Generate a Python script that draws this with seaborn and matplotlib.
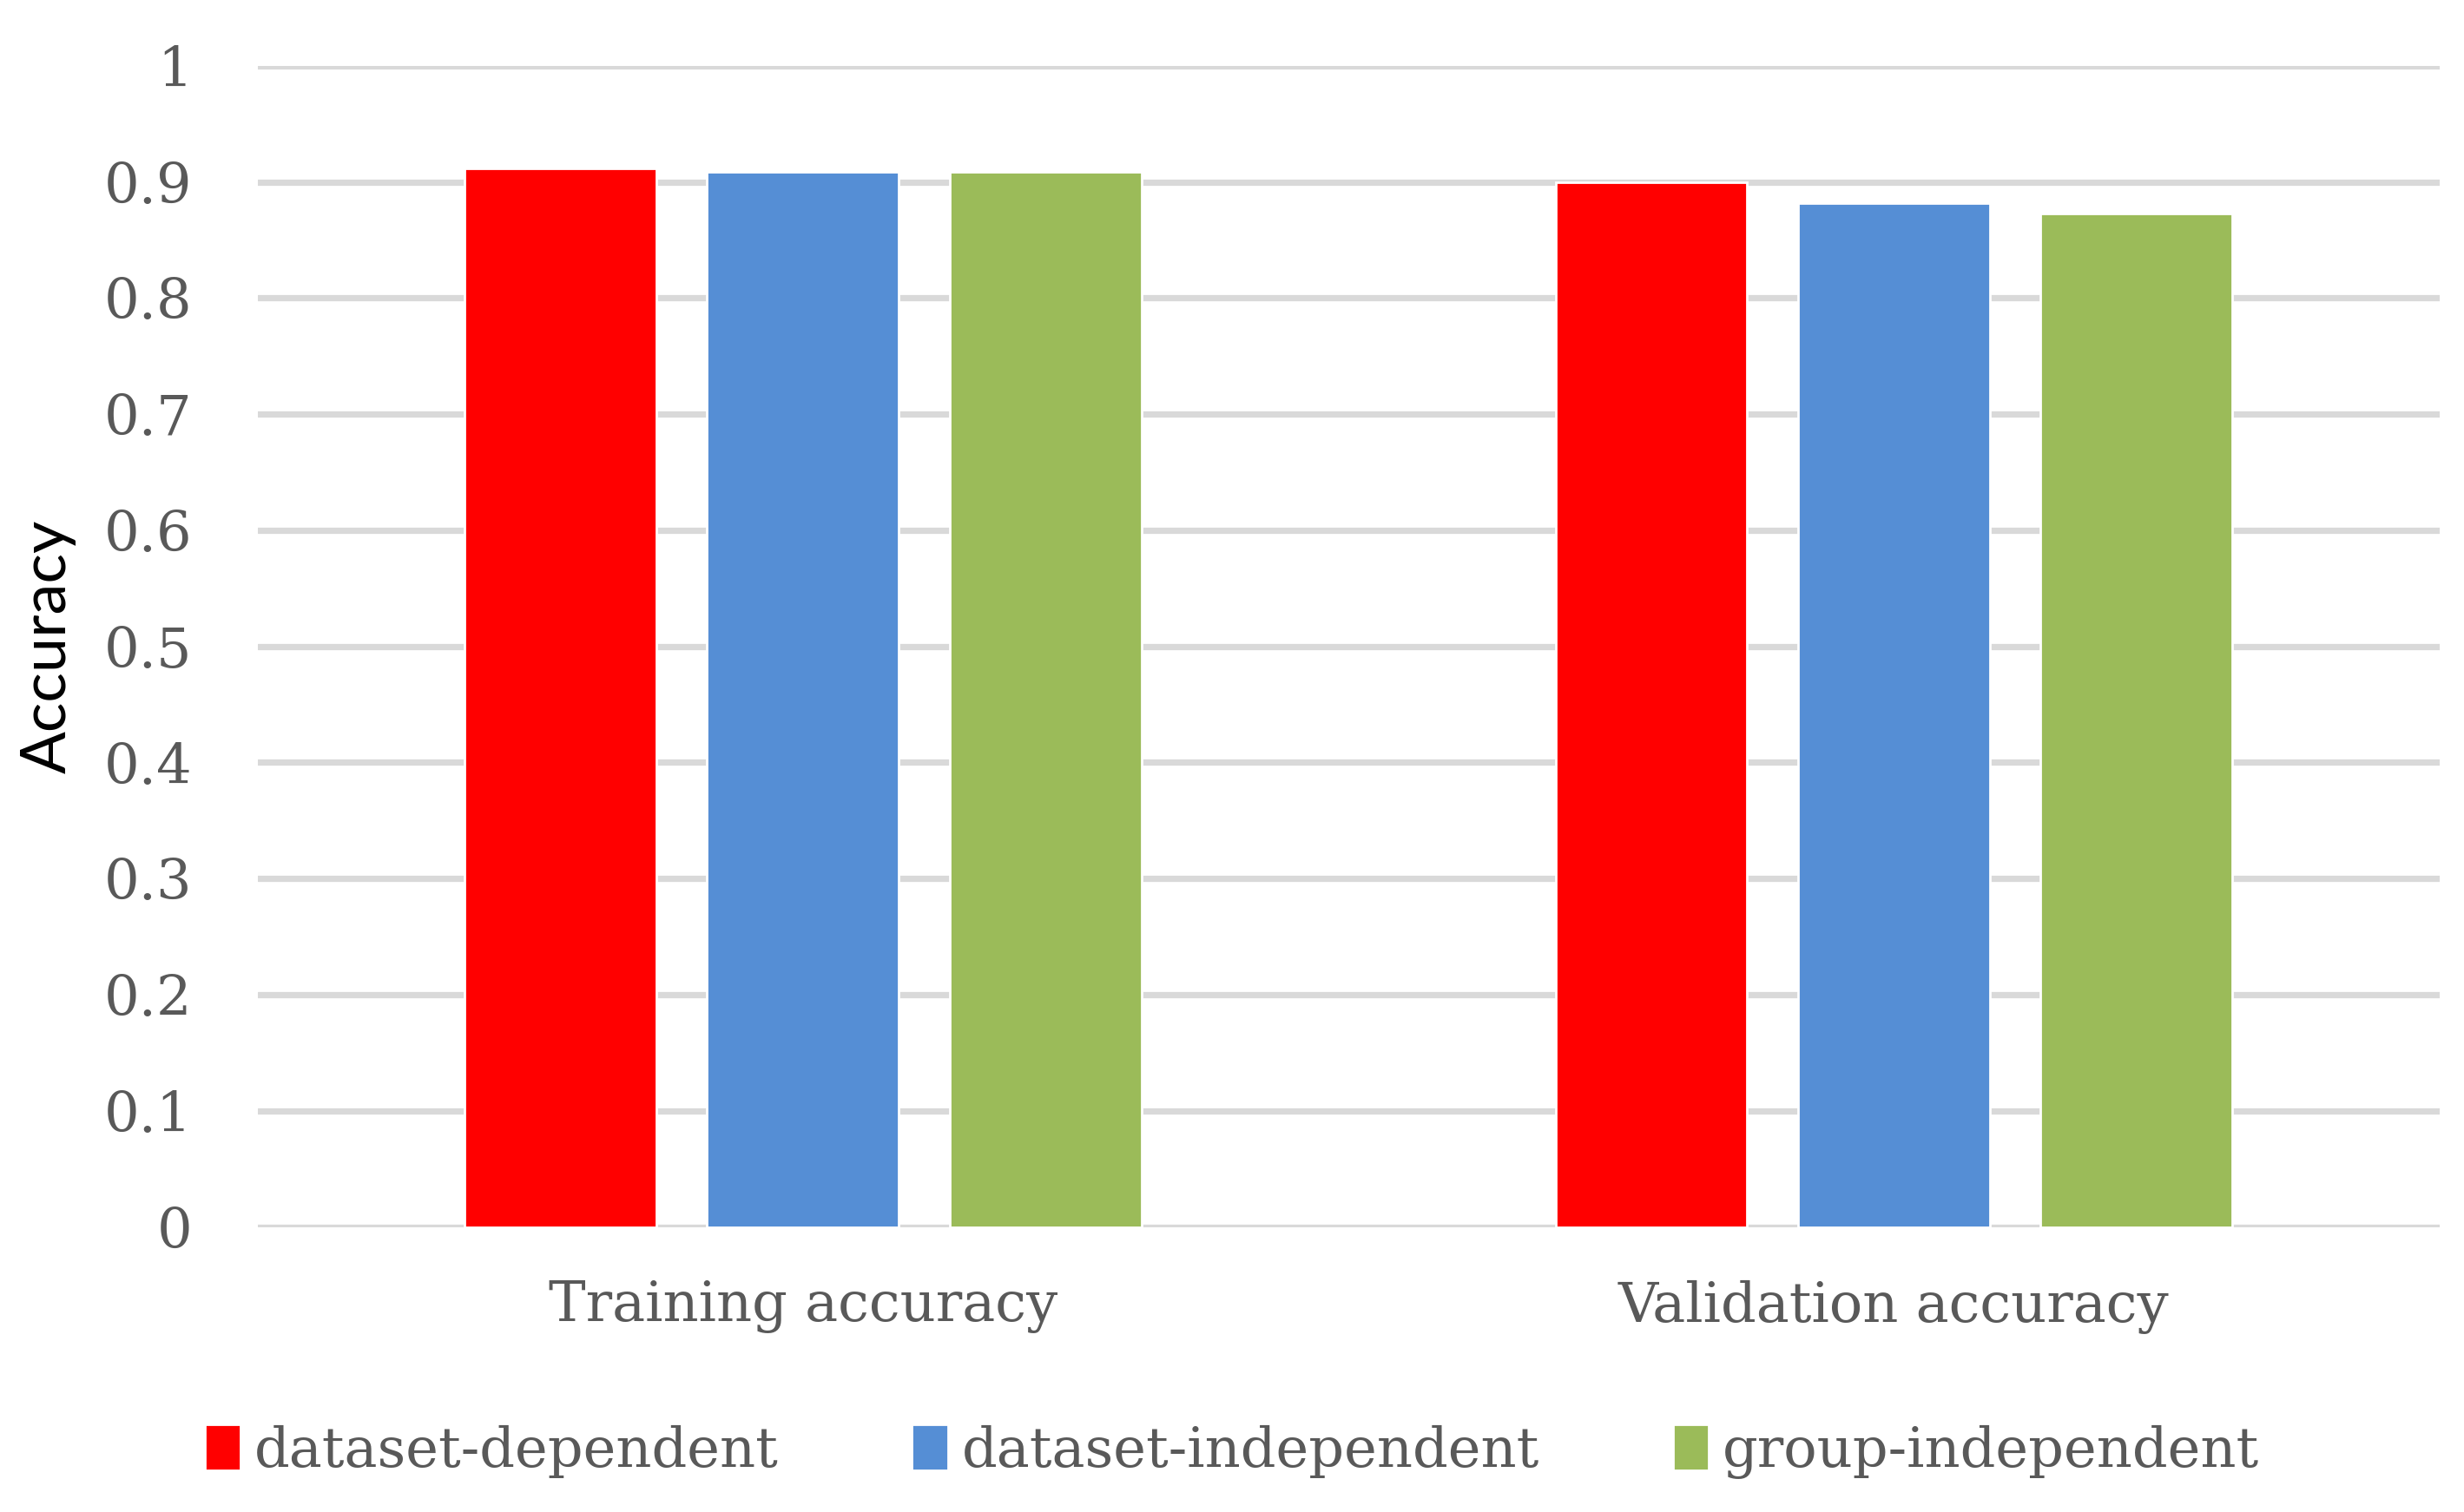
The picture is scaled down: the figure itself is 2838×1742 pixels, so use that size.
import numpy as np
import pandas as pd
import seaborn as sns
import matplotlib.pyplot as plt

# datos
categorias = ["Training accuracy", "Validation accuracy"]
modelos = ["dataset-dependent", "dataset-independent", "group-independent"]
dataset_dependent = [0.912, 0.900]
dataset_independent = [0.909, 0.882]
group_independent = [0.909, 0.873]
colores = ["#FF0000", "#558ED5", "#9BBB59"]
y_ticks = [0, 0.1, 0.2, 0.3, 0.4, 0.5, 0.6, 0.7, 0.8, 0.9, 1]

filas = []
for modelo, valores in zip(modelos, [dataset_dependent, dataset_independent, group_independent]):
    for cat, v in zip(categorias, valores):
        filas.append({"categoria": cat, "modelo": modelo, "accuracy": v})
df = pd.DataFrame(filas)

sns.set_style("white")
plt.rcParams['font.family'] = ['DejaVu Serif']

fig = plt.figure(figsize=(14.19, 8.71), dpi=200)
ax = fig.add_axes([0.1045, 0.1885, 0.8855, 0.768])

sns.barplot(data=df, x="categoria", y="accuracy", hue="modelo", order=categorias,
            hue_order=modelos, palette=colores, width=0.667, gap=0.21,
            saturation=1, ax=ax, legend=True)

ax.set_ylim(0, 1)
ax.set_xlim(-0.5, 1.5)
ax.set_yticks(y_ticks)
ax.set_yticklabels([f"{t:g}" for t in y_ticks])
ax.yaxis.grid(True, color="#D9D9D9", linewidth=2.6)
ax.set_axisbelow(True)
for s in ax.spines.values():
    s.set_visible(False)
ax.tick_params(axis="both", length=0, labelsize=23, labelcolor="#595959")
ax.tick_params(axis="y", pad=27)
ax.tick_params(axis="x", pad=22)
ax.set_xlabel("")
ax.set_ylabel("Accuracy", fontsize=26, family="Lato", color="black")
ax.yaxis.set_label_coords(-0.083, 0.5)

handles, labels = ax.get_legend_handles_labels()
ax.get_legend().remove()
fig.legend(handles, labels, loc="center", bbox_to_anchor=(0.5, 0.04), ncol=3,
           frameon=False, fontsize=23, labelcolor="#595959", handlelength=0.65,
           handleheight=0.9, handletextpad=0.25, columnspacing=2.4)

fig.savefig("out.png", dpi=200)
